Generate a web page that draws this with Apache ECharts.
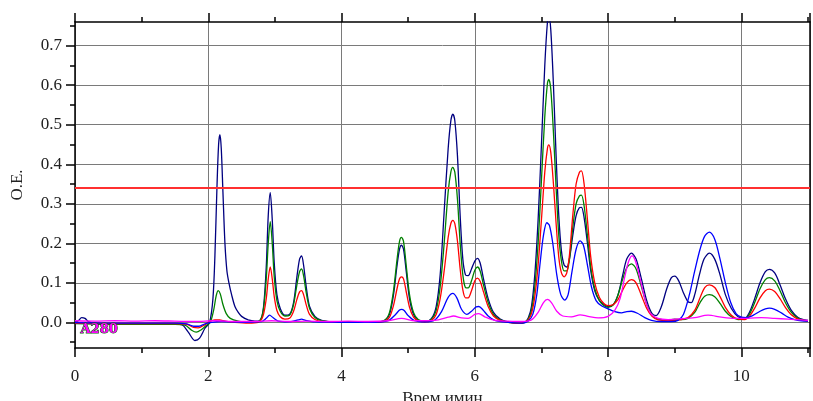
<!DOCTYPE html>
<html>
<head>
<meta charset="utf-8">
<script src="https://cdn.jsdelivr.net/npm/echarts@6/dist/echarts.min.js"></script>
<style>
  html, body { margin: 0; padding: 0; background: #fff; }
  #chroma { width: 813px; height: 401px; }
</style>
</head>
<body>
<div id="chroma"></div>
<script type="text/javascript">
var navyTrace = [[0,0.0],[0.05,0.004],[0.1,0.012],[0.15,0.01],[0.2,0.002],[0.3,-0.003],[0.6,-0.004],[1.0,-0.004],[1.4,-0.004],[1.6,-0.006],[1.7,-0.025],[1.8,-0.046],[1.87,-0.04],[1.95,-0.015],[2.02,0.0],[2.07,0.06],[2.1,0.17],[2.13,0.34],[2.155,0.45],[2.175,0.475],[2.195,0.44],[2.22,0.33],[2.25,0.2],[2.28,0.13],[2.31,0.1],[2.35,0.07],[2.4,0.04],[2.45,0.025],[2.5,0.015],[2.6,0.006],[2.7,0.003],[2.78,0.005],[2.83,0.04],[2.87,0.14],[2.9,0.27],[2.93,0.328],[2.96,0.26],[2.99,0.15],[3.03,0.07],[3.08,0.035],[3.15,0.018],[3.22,0.02],[3.28,0.05],[3.33,0.115],[3.37,0.16],[3.4,0.168],[3.43,0.145],[3.47,0.09],[3.52,0.04],[3.6,0.015],[3.7,0.005],[3.9,0.001],[4.2,0.001],[4.5,0.001],[4.65,0.005],[4.72,0.02],[4.78,0.07],[4.83,0.14],[4.87,0.185],[4.9,0.195],[4.93,0.185],[4.97,0.13],[5.02,0.06],[5.08,0.02],[5.15,0.005],[5.25,0.002],[5.35,0.01],[5.42,0.04],[5.48,0.12],[5.54,0.28],[5.6,0.44],[5.64,0.51],[5.67,0.527],[5.7,0.51],[5.74,0.42],[5.78,0.27],[5.82,0.16],[5.86,0.12],[5.9,0.118],[5.95,0.135],[6.0,0.155],[6.04,0.162],[6.08,0.15],[6.13,0.11],[6.2,0.06],[6.28,0.025],[6.38,0.008],[6.5,0.001],[6.65,-0.002],[6.75,0.0],[6.8,0.01],[6.85,0.04],[6.9,0.12],[6.95,0.26],[7.0,0.45],[7.05,0.65],[7.09,0.76],[7.11,0.775],[7.14,0.74],[7.18,0.6],[7.22,0.42],[7.26,0.27],[7.3,0.18],[7.34,0.145],[7.38,0.14],[7.42,0.16],[7.47,0.22],[7.52,0.27],[7.57,0.29],[7.6,0.291],[7.64,0.265],[7.69,0.2],[7.74,0.13],[7.8,0.08],[7.87,0.055],[7.94,0.045],[8.0,0.04],[8.08,0.045],[8.15,0.07],[8.22,0.12],[8.28,0.16],[8.35,0.175],[8.42,0.16],[8.5,0.11],[8.58,0.055],[8.66,0.022],[8.72,0.017],[8.8,0.04],[8.88,0.085],[8.95,0.113],[9.0,0.117],[9.06,0.105],[9.13,0.075],[9.2,0.052],[9.25,0.05],[9.3,0.07],[9.37,0.12],[9.44,0.16],[9.52,0.175],[9.6,0.16],[9.68,0.12],[9.76,0.07],[9.85,0.035],[9.95,0.014],[10.05,0.01],[10.12,0.025],[10.2,0.06],[10.28,0.1],[10.36,0.128],[10.42,0.134],[10.5,0.125],[10.58,0.095],[10.66,0.06],[10.75,0.03],[10.85,0.012],[10.95,0.006],[11.0,0.005]];

var greenTrace = [[0,-0.003],[0.5,-0.005],[1.0,-0.005],[1.5,-0.005],[1.65,-0.007],[1.75,-0.02],[1.82,-0.025],[1.9,-0.018],[1.97,-0.008],[2.03,0.0],[2.08,0.03],[2.12,0.068],[2.15,0.08],[2.18,0.072],[2.22,0.045],[2.27,0.022],[2.33,0.01],[2.45,0.003],[2.6,0.0],[2.75,0.002],[2.82,0.025],[2.87,0.11],[2.9,0.2],[2.93,0.255],[2.96,0.2],[2.99,0.115],[3.03,0.055],[3.08,0.028],[3.15,0.016],[3.22,0.018],[3.28,0.045],[3.33,0.095],[3.37,0.128],[3.4,0.135],[3.43,0.118],[3.47,0.075],[3.52,0.035],[3.6,0.012],[3.7,0.004],[4.0,0.0],[4.5,0.0],[4.65,0.006],[4.72,0.025],[4.78,0.08],[4.83,0.155],[4.87,0.205],[4.9,0.215],[4.93,0.205],[4.97,0.145],[5.02,0.07],[5.08,0.025],[5.15,0.007],[5.25,0.002],[5.35,0.008],[5.42,0.03],[5.48,0.09],[5.54,0.2],[5.6,0.33],[5.64,0.38],[5.67,0.392],[5.7,0.38],[5.74,0.31],[5.78,0.2],[5.82,0.12],[5.86,0.088],[5.9,0.087],[5.95,0.105],[6.0,0.132],[6.04,0.14],[6.08,0.13],[6.13,0.095],[6.2,0.05],[6.28,0.02],[6.38,0.006],[6.5,0.0],[6.65,-0.002],[6.75,0.0],[6.8,0.008],[6.85,0.03],[6.9,0.09],[6.95,0.2],[7.0,0.36],[7.05,0.52],[7.09,0.605],[7.11,0.615],[7.14,0.59],[7.18,0.48],[7.22,0.34],[7.26,0.22],[7.3,0.155],[7.34,0.13],[7.38,0.13],[7.42,0.16],[7.47,0.24],[7.52,0.3],[7.57,0.32],[7.6,0.322],[7.64,0.295],[7.69,0.22],[7.74,0.14],[7.8,0.085],[7.87,0.055],[7.94,0.042],[8.0,0.038],[8.08,0.045],[8.15,0.07],[8.22,0.11],[8.28,0.138],[8.35,0.148],[8.42,0.135],[8.5,0.09],[8.58,0.045],[8.66,0.018],[8.75,0.008],[8.9,0.006],[9.0,0.008],[9.1,0.007],[9.2,0.01],[9.3,0.025],[9.38,0.05],[9.45,0.066],[9.52,0.07],[9.6,0.065],[9.68,0.048],[9.76,0.028],[9.85,0.014],[9.95,0.007],[10.05,0.008],[10.12,0.02],[10.2,0.05],[10.28,0.085],[10.36,0.108],[10.42,0.113],[10.5,0.105],[10.58,0.08],[10.66,0.05],[10.75,0.025],[10.85,0.01],[10.95,0.005],[11.0,0.004]];

var redTrace = [[0,-0.002],[0.5,-0.003],[1.0,-0.003],[1.5,-0.003],[1.68,-0.005],[1.78,-0.013],[1.85,-0.014],[1.93,-0.008],[2.02,0.002],[2.1,0.006],[2.17,0.006],[2.25,0.003],[2.4,0.0],[2.6,-0.002],[2.75,0.0],[2.82,0.015],[2.87,0.06],[2.9,0.11],[2.93,0.14],[2.96,0.11],[2.99,0.065],[3.03,0.03],[3.08,0.014],[3.15,0.008],[3.22,0.01],[3.28,0.028],[3.33,0.058],[3.37,0.077],[3.4,0.08],[3.43,0.07],[3.47,0.044],[3.52,0.02],[3.6,0.007],[3.7,0.002],[4.0,0.0],[4.5,0.0],[4.65,0.003],[4.72,0.013],[4.78,0.043],[4.83,0.083],[4.87,0.11],[4.9,0.115],[4.93,0.11],[4.97,0.078],[5.02,0.038],[5.08,0.013],[5.15,0.004],[5.25,0.001],[5.35,0.005],[5.42,0.02],[5.48,0.06],[5.54,0.13],[5.6,0.215],[5.64,0.25],[5.67,0.258],[5.7,0.25],[5.74,0.205],[5.78,0.135],[5.82,0.082],[5.86,0.062],[5.9,0.062],[5.95,0.08],[6.0,0.105],[6.04,0.112],[6.08,0.104],[6.13,0.077],[6.2,0.04],[6.28,0.016],[6.38,0.005],[6.5,0.0],[6.65,-0.002],[6.75,0.0],[6.8,0.006],[6.85,0.022],[6.9,0.065],[6.95,0.145],[7.0,0.26],[7.05,0.38],[7.09,0.44],[7.11,0.449],[7.14,0.43],[7.18,0.35],[7.22,0.25],[7.26,0.165],[7.3,0.125],[7.34,0.115],[7.38,0.125],[7.42,0.17],[7.47,0.27],[7.52,0.35],[7.57,0.38],[7.6,0.383],[7.64,0.35],[7.69,0.26],[7.74,0.165],[7.8,0.1],[7.87,0.063],[7.94,0.047],[8.0,0.042],[8.08,0.045],[8.15,0.058],[8.22,0.082],[8.28,0.1],[8.35,0.108],[8.42,0.1],[8.5,0.068],[8.58,0.035],[8.66,0.015],[8.75,0.006],[8.9,0.004],[9.0,0.005],[9.1,0.007],[9.2,0.012],[9.3,0.03],[9.38,0.062],[9.45,0.088],[9.52,0.095],[9.6,0.088],[9.68,0.065],[9.76,0.038],[9.85,0.018],[9.95,0.008],[10.05,0.007],[10.12,0.015],[10.2,0.036],[10.28,0.062],[10.36,0.08],[10.42,0.084],[10.5,0.078],[10.58,0.06],[10.66,0.038],[10.75,0.019],[10.85,0.008],[10.95,0.004],[11.0,0.003]];

var blueTrace = [[0,-0.001],[0.5,-0.002],[1.0,-0.002],[1.5,-0.002],[1.68,-0.004],[1.78,-0.01],[1.86,-0.01],[1.95,-0.004],[2.05,0.0],[2.2,0.002],[2.5,0.0],[2.8,0.002],[2.87,0.01],[2.92,0.018],[2.97,0.012],[3.05,0.003],[3.2,0.001],[3.35,0.006],[3.4,0.008],[3.46,0.005],[3.6,0.001],[4.0,0.0],[4.5,0.0],[4.7,0.004],[4.8,0.018],[4.87,0.031],[4.9,0.033],[4.94,0.03],[5.0,0.017],[5.1,0.004],[5.25,0.001],[5.4,0.006],[5.5,0.027],[5.6,0.063],[5.67,0.073],[5.73,0.062],[5.8,0.033],[5.88,0.02],[5.95,0.028],[6.02,0.039],[6.06,0.04],[6.12,0.032],[6.2,0.016],[6.3,0.005],[6.5,0.0],[6.7,-0.002],[6.8,0.003],[6.87,0.02],[6.93,0.07],[6.98,0.15],[7.03,0.22],[7.08,0.252],[7.12,0.245],[7.17,0.2],[7.23,0.12],[7.29,0.07],[7.35,0.056],[7.4,0.07],[7.46,0.13],[7.52,0.185],[7.58,0.206],[7.63,0.195],[7.69,0.145],[7.75,0.09],[7.82,0.055],[7.9,0.042],[8.0,0.034],[8.1,0.027],[8.2,0.024],[8.28,0.027],[8.35,0.028],[8.44,0.023],[8.55,0.012],[8.65,0.005],[8.8,0.002],[8.95,0.002],[9.05,0.005],[9.13,0.02],[9.22,0.07],[9.3,0.13],[9.38,0.185],[9.45,0.218],[9.52,0.228],[9.6,0.21],[9.68,0.16],[9.76,0.1],[9.84,0.05],[9.92,0.022],[10.0,0.013],[10.08,0.012],[10.18,0.018],[10.28,0.028],[10.36,0.034],[10.42,0.036],[10.5,0.033],[10.6,0.024],[10.7,0.013],[10.8,0.007],[10.9,0.004],[11.0,0.003]];

var magentaTrace = [[0,0.004],[0.3,0.003],[0.6,0.004],[0.9,0.003],[1.2,0.004],[1.5,0.003],[1.8,0.002],[2.1,0.004],[2.4,0.002],[2.7,0.002],[2.95,0.004],[3.2,0.002],[3.5,0.003],[3.8,0.002],[4.1,0.003],[4.4,0.002],[4.7,0.004],[4.9,0.01],[5.1,0.004],[5.4,0.005],[5.6,0.013],[5.68,0.016],[5.8,0.011],[5.9,0.01],[6.0,0.02],[6.06,0.022],[6.15,0.014],[6.3,0.005],[6.5,0.003],[6.7,0.002],[6.85,0.006],[6.95,0.025],[7.03,0.05],[7.09,0.058],[7.15,0.05],[7.23,0.028],[7.32,0.016],[7.45,0.014],[7.58,0.019],[7.7,0.015],[7.85,0.011],[8.0,0.015],[8.1,0.03],[8.18,0.06],[8.25,0.115],[8.31,0.155],[8.36,0.168],[8.41,0.155],[8.48,0.11],[8.56,0.055],[8.64,0.022],[8.75,0.01],[8.9,0.007],[9.1,0.009],[9.3,0.012],[9.5,0.018],[9.7,0.013],[9.9,0.01],[10.1,0.01],[10.3,0.012],[10.5,0.01],[10.7,0.008],[10.9,0.006],[11.0,0.005]];

var thresholdLevel = 0.345;
var yMajorTicks = [0, 0.1, 0.2, 0.3, 0.4, 0.5, 0.6, 0.7];
var yMinorTicks = [-0.05, 0.05, 0.15, 0.25, 0.35, 0.45, 0.55, 0.65, 0.75];

var chart = echarts.init(document.getElementById('chroma'));
var serif = '"Liberation Serif", "DejaVu Serif", serif';

function trace(name, data, color) {
	return {
		name: name,
		type: 'line',
		data: data,
		smooth: 0.3,
		symbol: 'none',
		lineStyle: { color: color, width: 1.3 },
		itemStyle: { color: color },
		z: 3
	};
}

var series = [
	trace('navy', navyTrace, '#000080'),
	trace('green', greenTrace, '#008000'),
	trace('red', redTrace, '#ff0000'),
	trace('blue', blueTrace, '#0000ff'),
	trace('magenta', magentaTrace, '#ff00ff')
];
series[0].markLine = {
	silent: true,
	symbol: 'none',
	label: { show: false },
	lineStyle: { color: '#ff3030', width: 2, type: 'solid' },
	data: [{ yAxis: thresholdLevel }]
};

var option = {
	animation: false,
	backgroundColor: '#fff',
	grid: { left: 75, right: 3, top: 22, bottom: 53, containLabel: false, outerBoundsMode: 'none' },
	xAxis: [{
		type: 'value', position: 'bottom', min: 0, max: 11.03, interval: 2,
		name: 'Врем имин', nameLocation: 'middle', nameGap: 42,
		nameTextStyle: { fontFamily: serif, fontSize: 17, color: '#222' },
		axisLine: { onZero: false, lineStyle: { color: '#000', width: 1.5 } },
		axisTick: { inside: false, length: 9, lineStyle: { color: '#000', width: 1.5 } },
		minorTick: { show: true, splitNumber: 2, length: 5, lineStyle: { color: '#000', width: 1.5 } },
		axisLabel: { fontFamily: serif, fontSize: 17, color: '#222', margin: 20, showMaxLabel: false },
		splitLine: { show: true, lineStyle: { color: '#7a7a7a', width: 1 } }
	}, {
		type: 'value', position: 'top', min: 0, max: 11.03, interval: 2,
		axisLine: { onZero: false, lineStyle: { color: '#000', width: 1.5 } },
		axisTick: { length: 9, lineStyle: { color: '#000', width: 1.5 } },
		minorTick: { show: true, splitNumber: 2, length: 5, lineStyle: { color: '#000', width: 1.5 } },
		axisLabel: { show: false },
		splitLine: { show: false }
	}],
	yAxis: [{
		type: 'value', position: 'left', min: -0.065, max: 0.76,
		name: 'O.E.', nameLocation: 'middle', nameGap: 49,
		nameTextStyle: { fontFamily: serif, fontSize: 17, color: '#222' },
		axisLine: { show: true, onZero: false, lineStyle: { color: '#000', width: 1.5 } },
		axisTick: { show: true, length: 9, customValues: yMajorTicks, lineStyle: { color: '#000', width: 1.5 } },
		axisLabel: { customValues: yMajorTicks, fontFamily: serif, fontSize: 17, color: '#222', margin: 13,
			formatter: function (v) { return v.toFixed(1); } },
		splitLine: { show: true, lineStyle: { color: '#7a7a7a', width: 1 } }
	}, {
		type: 'value', position: 'left', min: -0.065, max: 0.76,
		axisLine: { show: false, onZero: false },
		axisTick: { show: true, length: 5, customValues: yMinorTicks, lineStyle: { color: '#000', width: 1.5 } },
		axisLabel: { show: false },
		splitLine: { show: false }
	}, {
		type: 'value', position: 'right', min: -0.065, max: 0.76,
		axisLine: { show: true, onZero: false, lineStyle: { color: '#000', width: 1.5 } },
		axisTick: { show: false },
		axisLabel: { show: false },
		splitLine: { show: false }
	}],
	graphic: [{
		type: 'text', left: 80, top: 323, z: 10,
		style: { text: 'A280', fill: '#ff00ff', stroke: '#007000', lineWidth: 1,
			font: 'bold 13px "DejaVu Serif", serif' }
	}],
	series: series
};
chart.setOption(option);
</script>
</body>
</html>
